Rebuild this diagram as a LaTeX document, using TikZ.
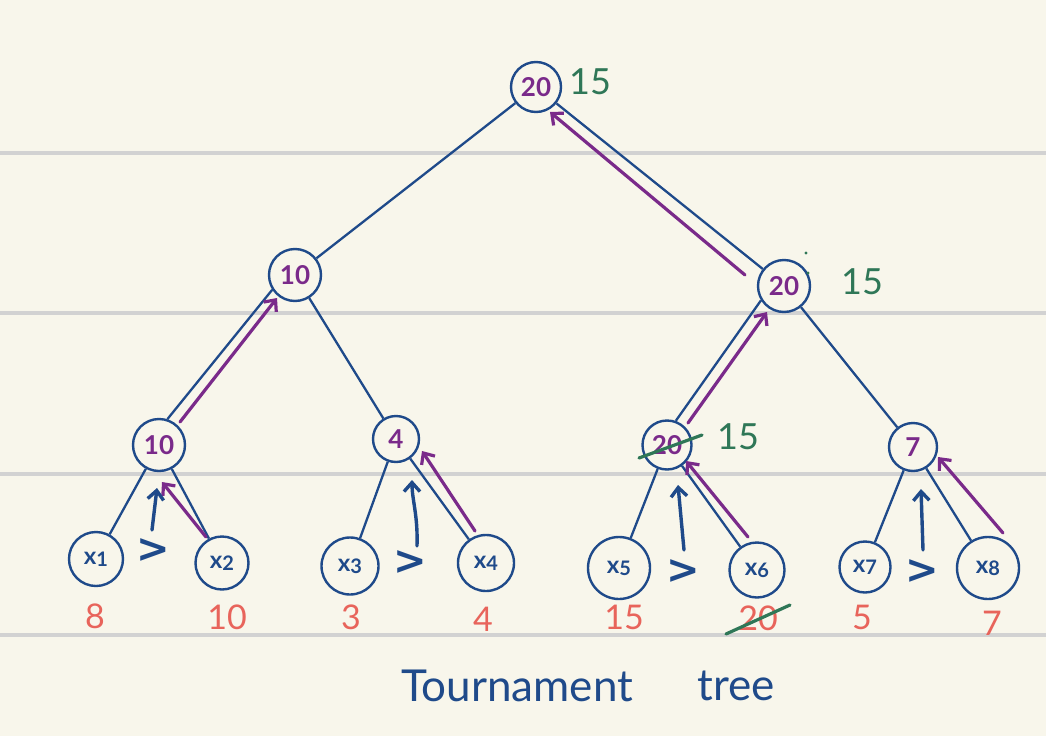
\documentclass[tikz,border=0pt]{standalone}
\usepackage{fontspec}
\setmainfont{Lato}
\newfontfamily\djv{DejaVu Sans}
\usetikzlibrary{arrows.meta}
\definecolor{paper}{HTML}{F8F6EB}
\definecolor{rulegray}{HTML}{D2D2D2}
\definecolor{ink}{HTML}{1F4A8A}
\definecolor{purp}{HTML}{7A2A8A}
\definecolor{grn}{HTML}{2F7757}
\definecolor{coral}{HTML}{E8645B}
\newcommand{\xl}[1]{x\raisebox{-2pt}{\fontsize{20}{20}\selectfont #1}}
\begin{document}
\begin{tikzpicture}[x=1pt,y=-1pt,
  tnode/.style={circle,draw=ink,line width=2.4pt,inner sep=0pt,text=purp,font=\fontsize{26}{26}\selectfont\bfseries},
  leaf/.style={circle,draw=ink,line width=2.4pt,inner sep=0pt,text=ink,font=\fontsize{24}{24}\selectfont\bfseries},
  edge/.style={draw=ink,line width=2.3pt},
  win/.style={draw=purp,line width=3.2pt,line cap=round,-{Straight Barb[length=9pt,width=16pt]}},
  cmp/.style={draw=ink,line width=3.4pt,line cap=round,-{Straight Barb[length=9pt,width=16pt]}},
  val/.style={text=coral,font=\fontsize{34}{34}\selectfont},
  upd/.style={text=grn,font=\fontsize{36}{36}\selectfont},
  gt/.style={text=ink,font=\djv\bfseries\fontsize{40}{40}\selectfont},
  strike/.style={draw=grn,line width=3.2pt,line cap=round},
  ttl/.style={text=ink,font=\fontsize{44}{44}\selectfont}
]
\fill[paper] (0,0) rectangle (1046,736);
\useasboundingbox (0,0) rectangle (1046,736);
\foreach \yy in {153,313,474,635} \draw[rulegray,line width=4pt] (0,\yy) -- (1046,\yy);

% internal nodes
\node[tnode,minimum size=50pt] (root) at (536,87) {20};
\node[tnode,minimum size=52pt] (L) at (295,275) {10};
\node[tnode,minimum size=52pt] (R) at (784,286) {20};
\node[tnode,minimum size=52pt] (LL) at (159,445) {10};
\node[tnode,minimum size=46pt] (LR) at (396,439) {4};
\node[tnode,minimum size=49pt] (RL) at (667,445) {20};
\node[tnode,minimum size=48pt] (RR) at (913,447) {7};

% leaves
\node[leaf,minimum size=54pt] (x1) at (96,559) {\xl{1}};
\node[leaf,minimum size=53pt] (x2) at (222,563) {\xl{2}};
\node[leaf,minimum size=57pt] (x3) at (350,566) {\xl{3}};
\node[leaf,minimum size=56pt] (x4) at (486,563) {\xl{4}};
\node[leaf,minimum size=62pt] (x5) at (619,568) {\xl{5}};
\node[leaf,minimum size=55pt] (x6) at (757,570) {\xl{6}};
\node[leaf,minimum size=51pt] (x7) at (865,567) {\xl{7}};
\node[leaf,minimum size=62pt] (x8) at (988,568) {\xl{8}};

% tree edges
\draw[edge] (root) -- (L);
\draw[edge] (root) -- (R);
\draw[edge] (L.213) -- (LL.72);
\draw[edge] (L) -- (LR);
\draw[edge] (R.212) -- (RL.70);
\draw[edge] (R) -- (RR);
\draw[edge] (LL) -- (x1);
\draw[edge] (LL) -- (x2);
\draw[edge] (LR) -- (x3);
\draw[edge] (LR) -- (x4);
\draw[edge] (RL) -- (x5);
\draw[edge] (RL) -- (x6);
\draw[edge] (RR) -- (x7);
\draw[edge] (RR) -- (x8);

% winner arrows (purple)
\coordinate (w1s) at (206,537); \coordinate (w1e) at (162,482);
\coordinate (w2s) at (180,422); \coordinate (w2e) at (277,298);
\coordinate (w3s) at (475,531); \coordinate (w3e) at (422,451);
\coordinate (w4s) at (748,537); \coordinate (w4e) at (686,461);
\coordinate (w5s) at (688,423); \coordinate (w5e) at (767,312);
\coordinate (w6s) at (1003,533); \coordinate (w6e) at (938,457);
\coordinate (w7s) at (745,275); \coordinate (w7e) at (550,112);
\draw[win] (w1s) -- (w1e);
\draw[win] (w2s) -- (w2e);
\draw[win] (w3s) -- (w3e);
\draw[win] (w4s) -- (w4e);
\draw[win] (w5s) -- (w5e);
\draw[win] (w6s) -- (w6e);
\draw[win] (w7s) -- (w7e);

% comparison arrows (blue)
\coordinate (c1s) at (152,530); \coordinate (c1e) at (157,488);
\coordinate (c2s) at (417,546); \coordinate (c2e) at (412,480);
\coordinate (c3s) at (684,550); \coordinate (c3e) at (678,485);
\coordinate (c4s) at (923,550); \coordinate (c4e) at (921,489);
\draw[cmp] (c1s) -- (c1e);
\draw[cmp] (c2s) .. controls (418,515) and (412,500) .. (c2e);
\draw[cmp] (c3s) -- (c3e);
\draw[cmp] (c4s) -- (c4e);

% comparison signs
\node[gt] (g1) at (153,551) {>};
\node[gt] (g2) at (410,563) {>};
\node[gt] (g3) at (683,572) {>};
\node[gt] (g4) at (922,572) {>};

% leaf values
\node[val] (v1) at (95,616) {8};
\node[val] (v2) at (227,617) {10};
\node[val] (v3) at (351,617) {3};
\node[val] (v4) at (483,619) {4};
\node[val] (v5) at (624,617) {15};
\node[val] (v6) at (758,618) {20};
\node[val] (v7) at (862,617) {5};
\node[val] (v8) at (992,623) {7};

% updates (green)
\node[upd] (u1) at (590,82) {15};
\node[upd] (u2) at (862,282) {15};
\node[upd] (u3) at (738,437) {15};
\coordinate (s1a) at (639,458); \coordinate (s1b) at (702,435);
\coordinate (s2a) at (726,634); \coordinate (s2b) at (790,605);
\draw[strike] (s1a) -- (s1b);
\draw[strike] (s2a) -- (s2b);
\fill[grn] (806,253) circle (1.6pt);
\fill[grn] (808,273) circle (1.6pt);

% title
\node[ttl] (t1) at (517,686) {Tournament};
\node[ttl] (t2) at (736,686) {tree};
\end{tikzpicture}
\end{document}
